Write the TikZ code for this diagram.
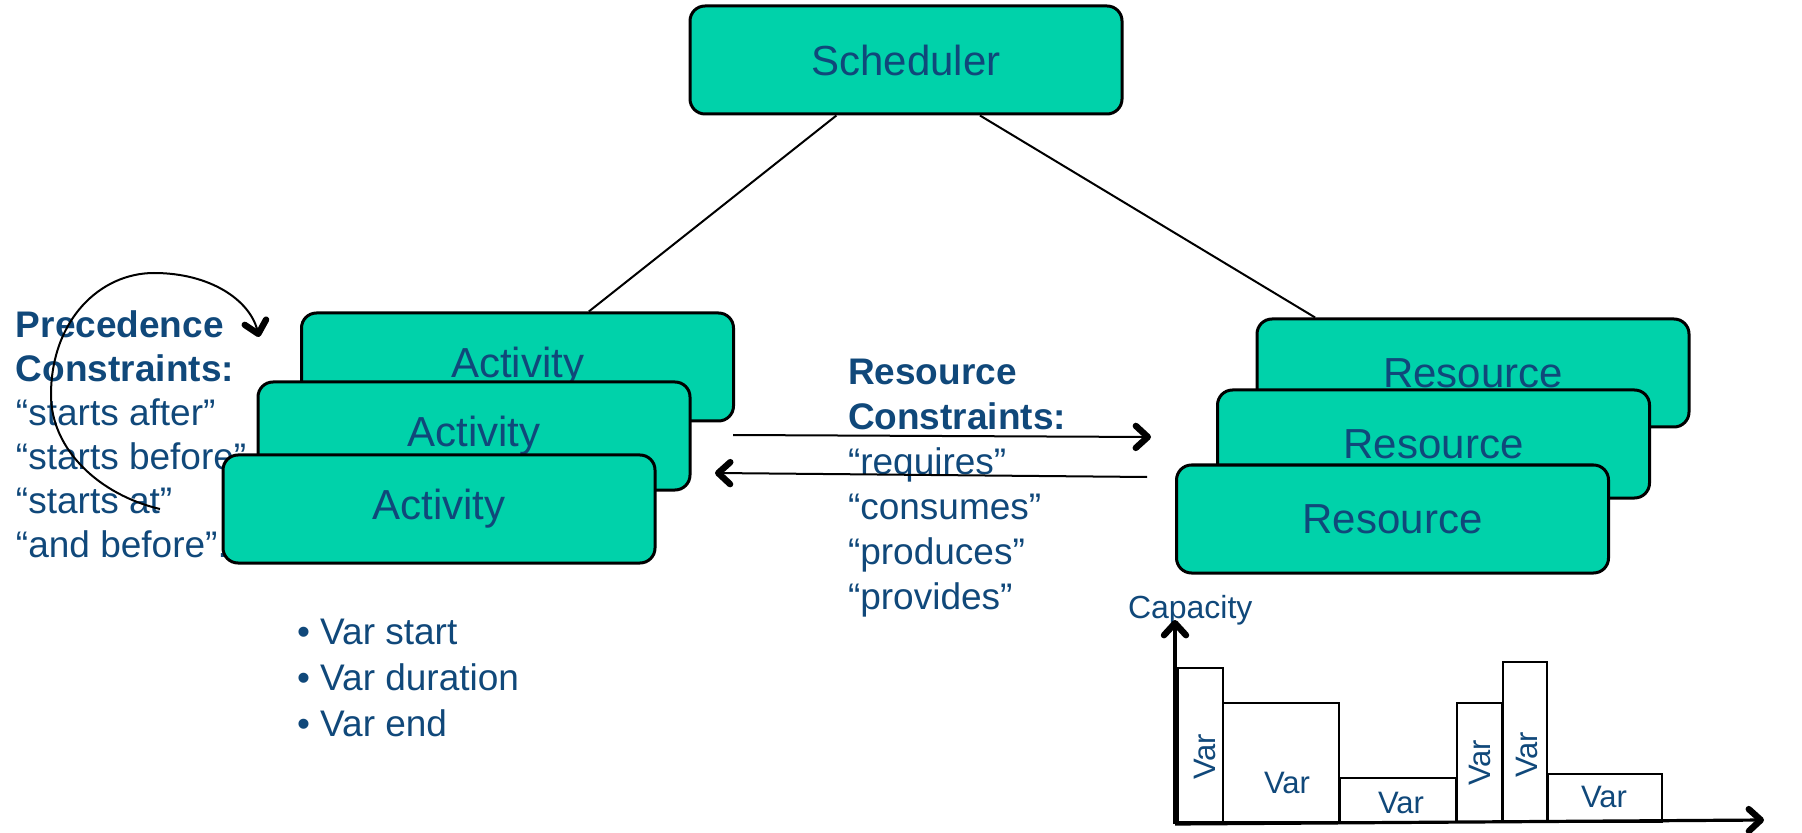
\documentclass[tikz,border=0pt]{standalone}
\usepackage{fontspec}
\setmainfont{Liberation Sans}
\usetikzlibrary{arrows.meta,calc}
\definecolor{boxfill}{RGB}{0,210,170}
\definecolor{navy}{RGB}{16,72,122}

\begin{document}
\begin{tikzpicture}[x=0.5pt,y=-0.5pt,line width=1pt]
\tikzstyle{box}=[draw=black,line width=1.5pt,fill=boxfill,rounded corners=7.5pt,minimum width=216pt,minimum height=54pt,inner sep=0pt,text=navy,font=\fontsize{21}{25}\selectfont]
\tikzstyle{txt}=[text=navy,align=left,anchor=base west,inner sep=0pt,font=\fontsize{18.5}{22}\selectfont]
\tikzstyle{varlbl}=[text=navy,inner sep=0pt,font=\fontsize{15.5}{18}\selectfont]
\tikzstyle{arr}=[-{Straight Barb[length=6pt,width=11pt,line width=3.2pt,round]}]

\useasboundingbox (0,0) rectangle (1802,833);

% texts under the boxes (anchored at the last baseline)
\node[txt] (prec) at (15,557) {\textbf{Precedence}\\\textbf{Constraints:}\\“starts after”\\“starts before”\\“starts at”\\“and before”.};
\node[txt,font=\fontsize{18.5}{22.5}\selectfont] (rescons) at (847,609) {\textbf{Resource}\\\textbf{Constraints:}\\“requires”\\“consumes”\\“produces”\\“provides”};
\node[txt,font=\fontsize{18.5}{23}\selectfont] (vars) at (296,736) {\textbullet\ Var start\\\textbullet\ Var duration\\\textbullet\ Var end};

\node[box] (sched) at (906,60)    {Scheduler};
\node[box] (act1)  at (517.5,367) {Activity};
\node[box] (act2)  at (474,436)   {Activity};
\node[box] (act3)  at (439,509)   {Activity};
\node[box] (res1)  at (1473,373)  {Resource};
\node[box] (res2)  at (1433.5,444) {Resource};
\node[box] (res3)  at (1392.5,519) {Resource};

\draw ($(sched.south west)!0.34!(sched.south east)$) -- ($(act1.north west)!0.664!(act1.north east)$);
\draw ($(sched.south west)!0.67!(sched.south east)$) -- ($(res1.north west)!0.137!(res1.north east)$);

\coordinate (reqA) at (733,435);
\coordinate (reqB) at (1151,437);
\coordinate (retA) at (1147,477);
\coordinate (retB) at (715,473);
\draw[arr] (reqA) -- (reqB);
\draw[arr] (retA) -- (retB);

% loop over the precedence text
\coordinate (pA) at (160,509);
\coordinate (pB) at (259,337);
\draw[arr] (pA) .. controls (100,495) and (51,450) .. (51,395)
  .. controls (51,320) and (100,273) .. (154,273)
  .. controls (210,273) and (250,300) .. (pB);

% capacity chart
\node[txt,font=\fontsize{16}{19}\selectfont] (cap) at (1127,618) {Capacity};
\foreach \xa/\xb/\yt/\lx/\ly/\r in {1178/1223/668/1205/757/90, 1223/1339/703/1287/783/0,
  1340/1456/778/1401/803/0, 1457/1502/703/1480/763/90, 1503/1547/662/1527/755/90,
  1548/1662/774/1604/797/0}
  \draw (\xa,822) rectangle (\xb,\yt) node[varlbl,rotate=\r] (v\xa) at (\lx,\ly) {Var};
\coordinate (orig) at (1175,824);
\coordinate (ytip) at (1175,620);
\coordinate (xtip) at (1764,820);
\draw[arr,line width=1.6pt] (orig) -- (ytip);
\draw[arr,line width=1.6pt] (orig) -- (xtip);
\end{tikzpicture}
\end{document}
